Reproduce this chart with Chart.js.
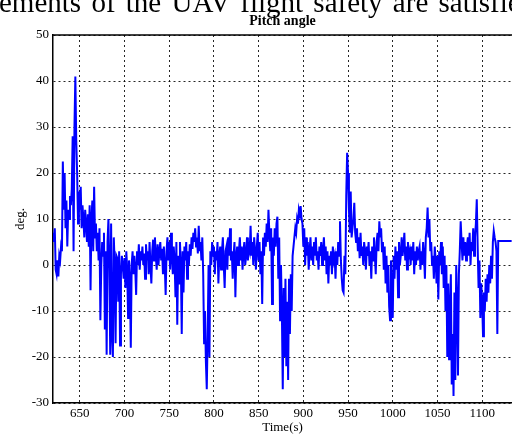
<!DOCTYPE html>
<html>
<head>
<meta charset="utf-8">
<script src="https://cdn.jsdelivr.net/npm/chart.js@4/dist/chart.umd.min.js"></script>
<style>
  html, body { margin: 0; padding: 0; background: #fff; overflow: hidden; width: 512px; height: 435px; }
  #wrap { position: relative; width: 512px; height: 435px; }
  #header { position: absolute; left: -1px; top: -13px; font-family: "Liberation Serif", serif; font-size: 29px; line-height: 30px; word-spacing: 3px; white-space: nowrap; color: #000; z-index: 2; }
  canvas { position: absolute; left: 0; top: 0; }
</style>
</head>
<body>
<div id="wrap">
  <div id="header">ements of the UAV flight safety are satisfied</div>
  <canvas id="c" width="512" height="435"></canvas>
</div>
<script>
// ---- data ----
const chartTitle = 'Pitch angle';
const xAxisTitle = 'Time(s)';
const yAxisTitle = 'deg.';
const xTickValues = [650, 700, 750, 800, 850, 900, 950, 1000, 1050, 1100];
const yTickValues = [-30, -20, -10, 0, 10, 20, 30, 40, 50];
const startTime = 620;   // s, first sample
const sampleStep = 1;    // s between samples
const pitchValues = [
  7, 5, 8, -1, -2, 1, -2.5, 2, 1, 4,            // 620
  3, 22.5, 12, 20, 8, 14, 4, 12, 10, 15,        // 630
  13, 16.5, 28, 3, 30, 41, 27, 20, 9, 16,       // 640
  12, 17, 8, 13, 10, 6, 12, 9, 5, 11,           // 650
  4, 13, -5.5, 10, 14, 3, 17, 6, 9, 3,          // 660
  7, 1, 8, -12, 0, 5, 2, 7, -14, 3,             // 670
  -19.5, 5, 10, 0, -19.5, 9, -15, -20, 6, 0,    // 680
  -17, 2, 1.5, -8, 3, -17.5, -2, 2, 0, -3,      // 690
  1.5, -5, 3, -1, -11.5, 1, -3, -18, 0, 3,      // 700
  -2, 2, -1, -6.5, 3, 0, 4.5, -1, 3, 1,         // 710
  4, 0, 2.5, -3, 4.5, 1, 3, -2, 5, 0,           // 720
  -4, 3, 5.5, 1, 6, 2, -1, 4.5, 0, 3,           // 730
  5, 1, 3.5, -2, 4, 0, -6.5, 3, 6, 1,           // 740
  5, -1, 7, 2, -2, 4, 1, -7, 5, -13,            // 750
  2, -4, 5, 0, -15, 3, -6, 4, 1, 5,             // 760
  -3, 3, 0, 4.5, 2, 6, 3.5, 7, 5, 8,            // 770
  4, 6, 2.5, 8.5, 3, 5, 1, 6, -2, -17,          // 780
  -10, -21, -27, -15, 0, -20, 3, 0, 5, 2,       // 790
  4, -2, 3, 1, 5, -4, 2, 4, -1, 3,              // 800
  6, 0, -5, 3, 4, -1, 6, 2, 8, 1,               // 810
  3, -3, 2, 5, -7, 2, 4, 0, 3, 6,               // 820
  1, 4, -1, 3, 5, 0, 2, 6, 1, 4,                // 830
  3, 8.5, 2, 5, 0, 6, 3, -1, 4, 7,              // 840
  1, 5, -2, 3, -8.5, 6, 2, 7, 4, 9,             // 850
  5, 12, 7, 3, 8, -8.5, 6, 2, 8, 4,             // 860
  9, 10.5, -3, 6, -12, 0, -10, -27, -5, -20,    // 870
  -3, -22, -8, -25, -3, -15, -2, -10, 2, 4,     // 880
  6, 8, 7, 10, 9, 12, 11, 12.8, 10, 9,          // 890
  4, 8, 0, 6, 2, 5, -1, 3, 6, 1,                // 900
  4, 0, 5, 2, 6, 1, 3, -1, 4, 2,                // 910
  5, 0, 3, 6, 1, 4, -2, 3, -4, 2,               // 920
  0, 3, -2, 4, 1, 2, -3, 3, 0, 5,               // 930
  2, 9.5, 1, -3, -5.5, -6, 2, -2, 15, 24.4,     // 940
  20, 12, 7, 16, 6, 8, 10, 13.5, 7, 5,          // 950
  8, 3, 6, 1.5, 7, 2, 4, 0, 5, 3,               // 960
  -1, 4, 2, 5, 0, 3, -3, 4, 1, 6,               // 970
  2, -2, 5, 7, 3, 9.5, 6, 8, 3, 5,              // 980
  -1, 4, -4, 2, -6, 0, -9, -12, 1, -5,          // 990
  -11.5, 2, -3, 4, -1, 3, -7, 5, 0, 2,          // 1000
  6, 2, 4, 7, 1, 4, -1, 5, 2, 3,                // 1010
  0, 4, 1, 5, -2, 3, 0, 4, 1, 3,                // 1020
  4, -1, 3, 0, 5, 2, -3, 6, 8, 12.5,            // 1030
  6, 10, 3, 5, 0, 2, -3, 4, 1, -4,              // 1040
  2, -7.5, 3, 0, 5, -2, 4, -5, 2, -10,          // 1050
  0, -20, -4, -20.5, -10, -2, -26, -15, -28.5, -6, // 1060
  -25, 0, -8, -24, -2, 3, 9.5, 5, 1, 6,         // 1070
  2, 5, 1, 4, 6, 2, 7, 0, 5, 3,                 // 1080
  8, 2, 6, 9, 14.3, 4, -5, 1, -11.5, -4,        // 1090
  -8, -15.5, -6, -10, -3, -8, -2, -6, 0, -4,    // 1100
  2, -3, 5, 7.4, 6, 5, 3, -15, 5.2, 5.2,        // 1110
  5.2, 5.2, 5.2, 5.2, 5.2, 5.2, 5.2, 5.2, 5.2, 5.2, // 1120
  5.2, 5.2, 5.2, 5.2                            // 1130
];
const xMin = 620, xMax = 1133.4, yMin = -30, yMax = 50;

// ---- chart ----
const points = pitchValues.map((v, i) => ({ x: startTime + i * sampleStep, y: v }));
const serif = 'Liberation Serif';

const topBorder = {
  id: 'topBorder',
  afterDatasetsDraw(chart) {
    const { ctx, chartArea } = chart;
    ctx.save();
    ctx.strokeStyle = '#000';
    ctx.lineWidth = 1.5;
    ctx.beginPath();
    ctx.moveTo(chartArea.left, chartArea.top);
    ctx.lineTo(chartArea.right, chartArea.top);
    ctx.stroke();
    ctx.restore();
  }
};

new Chart(document.getElementById('c'), {
  type: 'line',
  data: {
    datasets: [{
      data: points,
      borderColor: '#0000ff',
      borderWidth: 2,
      pointRadius: 0,
      tension: 0,
      fill: false
    }]
  },
  options: {
    responsive: false,
    animation: false,
    devicePixelRatio: 1,
    layout: { padding: 0 },
    plugins: {
      legend: { display: false },
      tooltip: { enabled: false },
      title: {
        display: true,
        text: chartTitle,
        fullSize: false,
        color: '#000',
        font: { family: serif, size: 14, weight: 'bold', lineHeight: 1.2 },
        padding: { top: 12.5, bottom: 5.7 }
      }
    },
    scales: {
      x: {
        type: 'linear',
        min: xMin,
        max: xMax,
        afterBuildTicks: s => { s.ticks = xTickValues.map(v => ({ value: v })); },
        afterFit: s => { s.height = 32; },
        ticks: { color: '#000', font: { family: serif, size: 13 }, padding: 3, maxRotation: 0, autoSkip: false, callback: v => String(v) },
        grid: { color: 'rgba(0,0,0,0.85)', lineWidth: 1, drawTicks: false },
        border: { display: true, color: '#000', width: 1.5, dash: [2, 3] },
        title: { display: true, text: xAxisTitle, color: '#000', font: { family: serif, size: 13, lineHeight: 1.2 }, padding: { top: 0, bottom: 0 } }
      },
      y: {
        min: yMin,
        max: yMax,
        afterBuildTicks: s => { s.ticks = yTickValues.map(v => ({ value: v })); },
        afterFit: s => { s.width = 53; },
        ticks: { color: '#000', font: { family: serif, size: 13 }, padding: 4, callback: v => String(v) },
        grid: { color: 'rgba(0,0,0,0.85)', lineWidth: 1, drawTicks: false },
        border: { display: true, color: '#000', width: 1.5, dash: [2, 3] },
        title: { display: true, text: yAxisTitle, color: '#000', font: { family: serif, size: 13, lineHeight: 1.2 }, padding: { top: 13, bottom: 0 } }
      }
    }
  },
  plugins: [topBorder]
});
</script>
</body>
</html>
